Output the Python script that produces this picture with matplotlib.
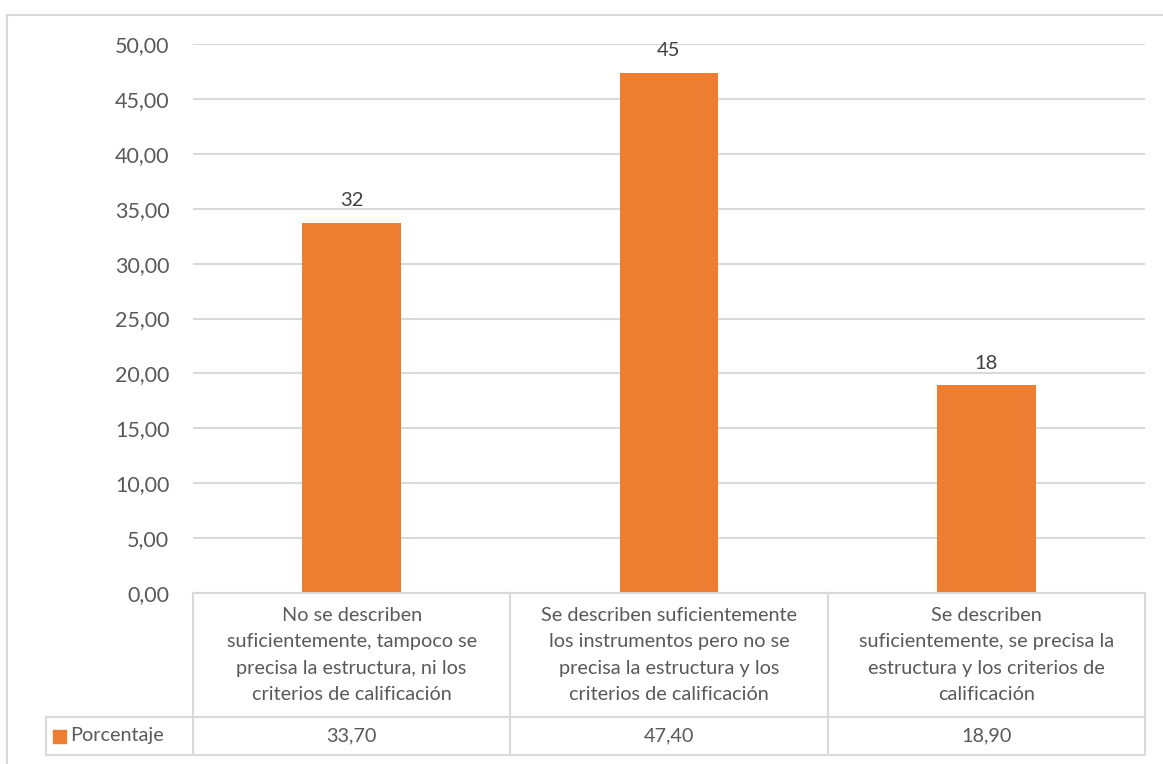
import matplotlib.pyplot as plt
from matplotlib.lines import Line2D
from matplotlib.patches import Rectangle
from matplotlib import transforms

plt.rcParams['font.family'] = ['Lato', 'DejaVu Sans']

# data
categorias = [
    "No se describen\nsuficientemente, tampoco se\nprecisa la estructura, ni los\ncriterios de calificación",
    "Se describen suficientemente\nlos instrumentos pero no se\nprecisa la estructura y los\ncriterios de calificación",
    "Se describen\nsuficientemente, se precisa la\nestructura y los criterios de\ncalificación",
]
porcentaje = [33.70, 47.40, 18.90]
etiquetas = ["32", "45", "18"]
serie = "Porcentaje"
yticks = [0, 5, 10, 15, 20, 25, 30, 35, 40, 45, 50]

naranja = "#ED7D31"
gris_linea = "#D9D9D9"
gris_texto = "#595959"

W, H = 1163, 764
fig = plt.figure(figsize=(W / 100, H / 100), dpi=100)

def fx(px):
    return px / W

def fy(py):
    return 1 - py / H

ax = fig.add_axes([fx(193), fy(593), fx(1145) - fx(193), fy(44) - fy(593)])
x = range(len(porcentaje))
ax.bar(x, porcentaje, width=0.31, color=naranja, zorder=3)
ax.set_xlim(-0.5, len(porcentaje) - 0.5)
ax.set_ylim(0, 50)
ax.set_yticks(yticks)
ax.set_yticklabels([f"{v:.2f}".replace(".", ",") for v in yticks],
                   fontsize=15.5, color=gris_texto)
ax.tick_params(axis="y", length=0, pad=17)
ax.set_xticks([])
ax.grid(axis="y", color=gris_linea, linewidth=1.5, zorder=0)
for s in ax.spines.values():
    s.set_visible(False)

for i, (v, lab) in enumerate(zip(porcentaje, etiquetas)):
    ax.annotate(lab, (i, v), xytext=(0, 10), textcoords="offset points",
                ha="center", va="bottom", fontsize=14.5, color="#404040")

# data table under the axis
tr = transforms.blended_transform_factory(ax.transData, fig.transFigure)
y_top, y_mid, y_bot = fy(593), fy(717), fy(755)
x_leg = -0.5 - (193 - 46) / (1145 - 193) * len(porcentaje)
lw = 1.5

def linea(xs, ys):
    fig.add_artist(Line2D(xs, ys, transform=tr, color=gris_linea, lw=lw, clip_on=False))

n = len(porcentaje)
linea([-0.5, n - 0.5], [y_top, y_top])
linea([x_leg, n - 0.5], [y_mid, y_mid])
linea([x_leg, n - 0.5], [y_bot, y_bot])
linea([x_leg, x_leg], [y_mid, y_bot])
for b in range(n + 1):
    linea([b - 0.5, b - 0.5], [y_top, y_bot])

for i, (cat, v) in enumerate(zip(categorias, porcentaje)):
    fig.text(i, (y_top + y_mid) / 2, cat, transform=tr, ha="center", va="center",
             fontsize=14.3, color=gris_texto, linespacing=1.68)
    fig.text(i, (y_mid + y_bot) / 2, f"{v:.2f}".replace(".", ","), transform=tr,
             ha="center", va="center", fontsize=14.3, color=gris_texto)

fig.add_artist(Rectangle((fx(53), fy(743)), fx(66) - fx(53), fy(730) - fy(743),
                         transform=fig.transFigure, color=naranja))
fig.text(fx(70), (y_mid + y_bot) / 2, serie, ha="left", va="center",
         fontsize=14.3, color=gris_texto)

# chart area border
fig.add_artist(Line2D([fx(7), 1], [fy(15), fy(15)], color=gris_linea, lw=1.5))
fig.add_artist(Line2D([fx(7), fx(7)], [fy(15), 0], color=gris_linea, lw=1.5))

fig.savefig("out.png", dpi=100, facecolor="white")
